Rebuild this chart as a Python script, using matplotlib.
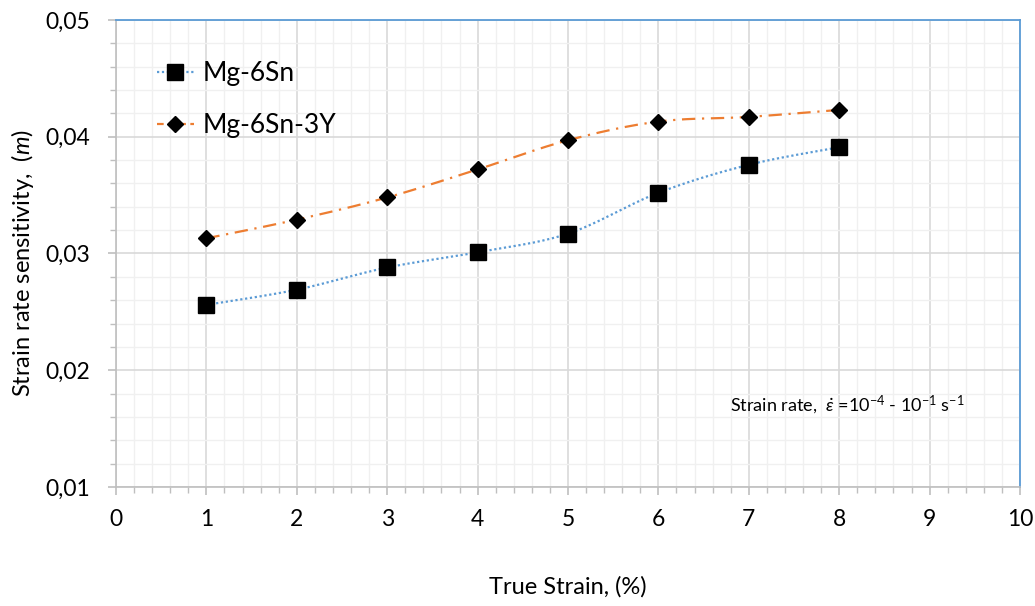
import numpy as np
import matplotlib
matplotlib.use('Agg')
import matplotlib.pyplot as plt
from matplotlib.ticker import MultipleLocator, FuncFormatter

plt.rcParams['font.family'] = ['Lato', 'DejaVu Sans']
plt.rcParams['mathtext.fontset'] = 'custom'
plt.rcParams['mathtext.it'] = 'Lato:italic'
plt.rcParams['mathtext.rm'] = 'Lato'

# data
strain = [1, 2, 3, 4, 5, 6, 7, 8]
m_mg6sn = [0.0256, 0.0269, 0.0288, 0.0301, 0.0317, 0.0352, 0.0376, 0.0391]
m_mg6sn3y = [0.0313, 0.0329, 0.0348, 0.0372, 0.0397, 0.0413, 0.0417, 0.0423]
labels = ['Mg-6Sn', 'Mg-6Sn-3Y']


# Excel-style smoothed line (Catmull-Rom through the points)
def smooth(x, y, n=30):
    x = np.asarray(x, float)
    y = np.asarray(y, float)
    px = np.concatenate([[x[0]], x, [x[-1]]])
    py = np.concatenate([[y[0]], y, [y[-1]]])
    xs, ys = [], []
    t = np.linspace(0, 1, n)
    for i in range(1, len(px) - 2):
        p0, p1, p2, p3 = [np.array([px[j], py[j]]) for j in (i - 1, i, i + 1, i + 2)]
        c1 = p1 + (p2 - p0) / 6
        c2 = p2 - (p3 - p1) / 6
        b = ((1 - t) ** 3)[:, None] * p1 + (3 * (1 - t) ** 2 * t)[:, None] * c1 \
            + (3 * (1 - t) * t ** 2)[:, None] * c2 + (t ** 3)[:, None] * p2
        xs.extend(b[:, 0])
        ys.extend(b[:, 1])
    return xs, ys


fig = plt.figure(figsize=(10.35, 6.06), dpi=100)
ax = fig.add_axes([0.1121, 0.1964, 0.8734, 0.7706])

blue_ls = (0, (1, 1.2))
orange_ls = (0, (6, 3, 1, 3))

sx, sy = smooth(strain, m_mg6sn)
ax.plot(sx, sy, color='#5b9bd5', linestyle=blue_ls, linewidth=1.6, zorder=3)
ax.plot(strain, m_mg6sn, linestyle='none', marker='s', markersize=11,
        color='black', zorder=4)
ax.plot([], [], color='#5b9bd5', linestyle=blue_ls, linewidth=1.6,
        marker='s', markersize=11, markerfacecolor='black', markeredgecolor='black',
        label=labels[0])

sx, sy = smooth(strain, m_mg6sn3y)
ax.plot(sx, sy, color='#ed7d31', linestyle=orange_ls, linewidth=1.6, zorder=3)
ax.plot(strain, m_mg6sn3y, linestyle='none', marker='D', markersize=8,
        color='black', zorder=4)
ax.plot([], [], color='#ed7d31', linestyle=(0, (3, 2)), linewidth=1.6,
        marker='D', markersize=8, markerfacecolor='black', markeredgecolor='black',
        label=labels[1])

ax.set_xlim(0, 10)
ax.set_ylim(0.01, 0.05)
ax.xaxis.set_major_locator(MultipleLocator(1))
ax.xaxis.set_minor_locator(MultipleLocator(0.2))
ax.yaxis.set_major_locator(MultipleLocator(0.01))
ax.yaxis.set_minor_locator(MultipleLocator(0.002))
ax.yaxis.set_major_formatter(FuncFormatter(lambda v, p: f'{v:.2f}'.replace('.', ',')))

ax.grid(which='major', color='#d9d9d9', linewidth=1.2)
ax.grid(which='minor', color='#f0f0f0', linewidth=1.0)
ax.set_axisbelow(True)

for s in ['left', 'bottom']:
    ax.spines[s].set_color('#bfbfbf')
    ax.spines[s].set_linewidth(1.2)
for s in ['top', 'right']:
    ax.spines[s].set_color('#5b9bd5')
    ax.spines[s].set_linewidth(1.3)

ax.tick_params(which='major', length=6, width=1.2, color='#bfbfbf', labelsize=16.5)
ax.tick_params(which='minor', length=4.5, width=1.0, color='#bfbfbf')
ax.tick_params(axis='y', pad=12.5)
ax.tick_params(axis='x', pad=9.5)

ax.set_xlabel('True Strain, (%)', fontsize=17)
ax.set_ylabel('Strain rate sensitivity,  ($m$)', fontsize=17)
ax.xaxis.set_label_coords(0.5, -0.19)
ax.yaxis.set_label_coords(-0.088, 0.48)

ax.legend(loc='upper left', bbox_to_anchor=(0.045, 0.912), frameon=False,
          borderaxespad=0, borderpad=0,
          fontsize=19, handlelength=1.42, labelspacing=1.02, handletextpad=0.31)

ax.text(0.679, 0.177, r'Strain rate,  $\dot{\varepsilon}$ =10$^{-4}$ - 10$^{-1}$ s$^{-1}$',
        transform=ax.transAxes, fontsize=13, ha='left', va='center')

fig.savefig('out.png', dpi=100)
